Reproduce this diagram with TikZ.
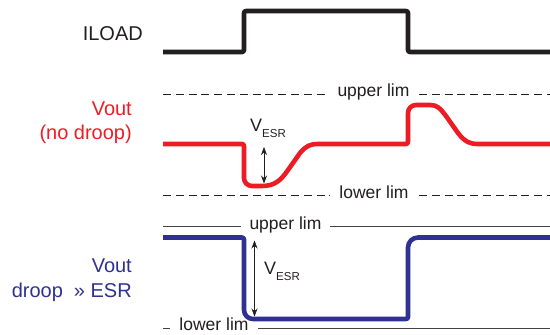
\documentclass[tikz,border=0pt]{standalone}
\usepackage{fontspec}
\setmainfont{Liberation Sans}
\usetikzlibrary{arrows.meta}
\definecolor{vred}{RGB}{237,28,36}
\definecolor{vblue}{RGB}{46,49,146}
\definecolor{ink}{RGB}{35,31,32}
\newcommand{\vesrtext}{V\raisebox{-6pt}{\fontsize{11.5}{13}\selectfont ESR}}
\tikzset{
  wave/.style={line width=4.6pt, line join=round},
  limdash/.style={ink, line width=0.9pt, dash pattern=on 8pt off 4.8pt},
  limsolid/.style={ink!85, line width=0.9pt},
  limtext/.style={font=\fontsize{17.5}{20}\selectfont, text=ink, fill=white, inner ysep=1pt, inner xsep=9pt, anchor=mid},
  sidetext/.style={font=\fontsize{20}{24}\selectfont, anchor=base east, inner sep=0pt},
  esrtext/.style={font=\fontsize{18}{20}\selectfont, anchor=base west, inner sep=0pt, text=ink},
  esrarrow/.style={ink, line width=0.7pt, {Stealth[length=8pt,width=6pt]}-{Stealth[length=8pt,width=6pt]}}
}
\begin{document}
\begin{tikzpicture}[x=1pt,y=-1pt]
\useasboundingbox (0,0) rectangle (550,335);
\node[sidetext, text=ink] (iload) at (143,40) {ILOAD};
\draw[wave, ink, rounded corners=2pt] (163,52) -- (244,52) -- (244,11) -- (408,11) -- (408,52) -- (550,52);

\node[sidetext, text=vred] (voutA) at (132,115) {Vout};
\node[sidetext, text=vred] (droopA) at (132,139) {(no droop)};
\draw[limdash] (163,94) -- (550,94);
\draw[limdash] (163,195.5) -- (550,195.5);
\node[limtext] (upperA) at (373.5,94) {upper lim};
\node[limtext] (lowerA) at (374,195.5) {lower lim};
\draw[wave, vred] (163,144) [rounded corners=2pt] -- (244,144) [rounded corners=8pt] -- (244,186) [sharp corners] -- (262,186)
  .. controls (275,186) and (281,180) .. (288,170) -- (300,153) .. controls (306,146) and (310,144) .. (318,144)
  [rounded corners=2pt] -- (408,144) [rounded corners=8pt] -- (408,105) [sharp corners] -- (430,105)
  .. controls (437,105) and (440,108) .. (446,116) -- (458,133) .. controls (465,142) and (470,144) .. (478,144) -- (550,144);
\coordinate (esrAtop) at (264,147);
\coordinate (esrAbot) at (264,183.5);
\draw[esrarrow] (esrAtop) -- (esrAbot);
\node[esrtext] (esrA) at (250,131) {\vesrtext};

\node[sidetext, text=vblue] (voutB) at (132,272) {Vout};
\node[sidetext, text=vblue] (droopB) at (132,297) {droop\hspace{0.55em}» ESR};
\draw[limsolid] (163,226.5) -- (550,226.5);
\draw[limsolid] (163,328) -- (550,328);
\node[limtext] (upperB) at (285.5,226.5) {upper lim};
\node[limtext] (lowerB) at (214,328) {lower lim};
\draw[wave, vblue] (163,237.5) [rounded corners=2pt] -- (244,237.5) [rounded corners=9pt] -- (244,319) [rounded corners=2pt] -- (408,319) [rounded corners=10pt] -- (408,237.5) -- (550,237.5);
\coordinate (esrBtop) at (254.5,240.5);
\coordinate (esrBbot) at (254.5,316.5);
\draw[esrarrow] (esrBtop) -- (esrBbot);
\node[esrtext] (esrB) at (264,274) {\vesrtext};
\end{tikzpicture}
\end{document}
